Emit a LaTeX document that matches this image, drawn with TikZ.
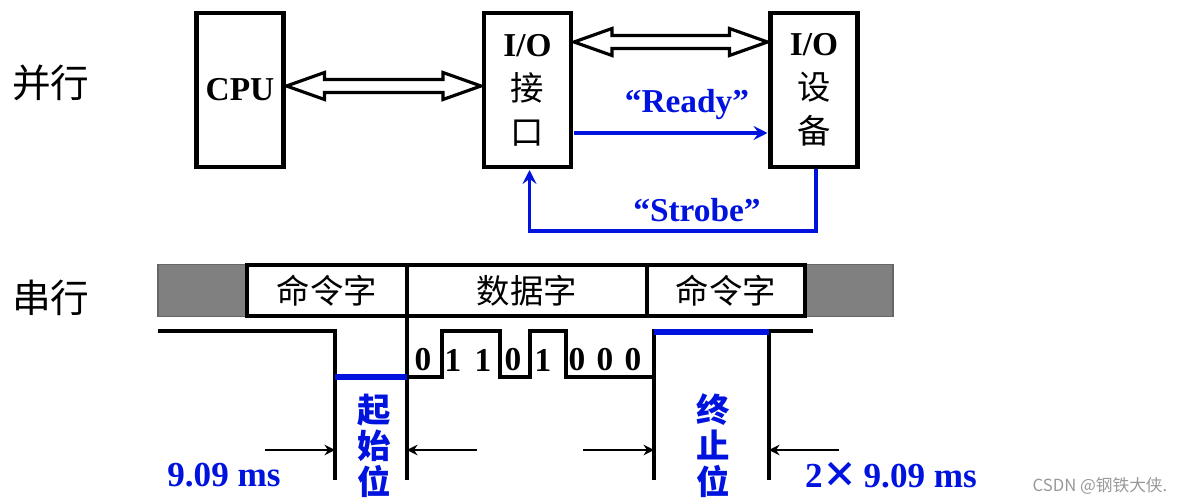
\documentclass[tikz,border=0pt]{standalone}
\usepackage{fontspec}
\setmainfont{Liberation Serif}
\newfontfamily\cjk{Noto Sans CJK SC}
\usetikzlibrary{shapes,arrows.meta,positioning,calc}
\definecolor{sigblue}{RGB}{0,18,222}

\tikzset{
  unit/.style={draw, line width=2.3pt, minimum width=1.74cm, minimum height=3.08cm,
    align=center, inner sep=0pt, font=\fontsize{19}{25}\selectfont},
  hollow/.style={draw, line width=1.8pt, fill=white, line join=miter},
  cell/.style={draw, line width=2pt, minimum height=1.02cm, inner sep=0pt,
    font=\cjk\fontsize{19}{21}\selectfont},
  pad/.style={draw=black!60, line width=0.6pt, fill=gray, minimum height=1.04cm, inner sep=0pt},
  sig/.style={line width=1.8pt, line join=miter},
  bitline/.style={line width=2.9pt, draw=sigblue},
  wire/.style={line width=2.2pt, draw=sigblue, -{Stealth[length=8pt,width=8pt,inset=3pt]}},
  dim/.style={line width=1pt, -{Stealth[length=6pt,width=6pt,inset=2pt]}},
  bluelbl/.style={text=sigblue, font=\bfseries\fontsize{19}{21}\selectfont},
  bitlbl/.style={font=\bfseries\fontsize{19}{21}\selectfont, inner sep=0pt},
  vlbl/.style={text=sigblue, align=center, font=\cjk\bfseries\fontsize{19}{20.5}\selectfont},
  side/.style={font=\cjk\fontsize{22}{24}\selectfont}
}

% hollow double arrow between two tips
\newcommand{\hollowlink}[2]{%
  \draw[hollow] (#1) -- ++(38,-13.5) -- ++(0,7) -- ($(#2)+(-38,-6.5)$) -- ++(0,-7)
    -- (#2) -- ++(-38,13.5) -- ++(0,-7) -- ($(#1)+(38,6.5)$) -- ++(0,7) -- cycle;}

\begin{document}
\begin{tikzpicture}[x=0.02cm, y=-0.02cm]
  \useasboundingbox (0,0) rectangle (1177,500);

  % parallel
  \node[side] (par) at (51,83) {并行};
  \node[unit] (cpu) at (240,90) {\textbf{CPU}};
  \node[unit] (ioif) at (527.5,90) {\textbf{I/O}\\{\cjk 接}\\{\cjk 口}};
  \node[unit] (iodev) at (814,90) {\textbf{I/O}\\{\cjk 设}\\{\cjk 备}};

  \coordinate (busA) at ($(cpu.east)+(1,-4)$);
  \coordinate (busB) at ($(ioif.west)+(-1,-4)$);
  \coordinate (busC) at ($(ioif.east)+(1,-48)$);
  \coordinate (busD) at ($(iodev.west)+(-1,-48)$);
  \hollowlink{busA}{busB}
  \hollowlink{busC}{busD}

  \draw[wire] ($(ioif.east)+(1,43)$) -- ($(iodev.west)+(-1,43)$);
  \node[bluelbl] (ready) at (687,105) {“Ready”};
  \draw[wire] ($(iodev.south)+(2,0)$) -- ++(0,62) -| ($(ioif.south)+(2,1)$);
  \node[bluelbl] (strobe) at (697,210) {“Strobe”};

  % serial
  \node[side] (ser) at (51,298) {串行};
  \node[pad, minimum width=1.78cm] (padL) at (202.5,290.5) {};
  \node[pad, minimum width=1.76cm] (padR) at (849,290.5) {};
  \node[cell, minimum width=3.2cm] (cmdA) at (327,290.5) {命令字};
  \node[cell, minimum width=4.8cm] (data) at (527,290.5) {数据字};
  \node[cell, minimum width=3.16cm] (cmdB) at (726,290.5) {命令字};

  \draw[sig] (158,331) -- (335,331) -- (335,480);
  \draw[sig] (407,318) -- (407,480);
  \draw[sig] (407,377) -- (442,377) -- (442,331) -- (500,331) -- (500,377) -- (530,377)
    -- (530,331) -- (566,331) -- (566,377) -- (654,377) -- (654,331) -- (813,331);
  \draw[sig] (654,331) -- (654,480);
  \draw[sig] (769,331) -- (769,480);
  \draw[bitline] (335,377) -- (407,377);
  \draw[bitline] (654,332) -- (769,332);

  \foreach \x/\b in {423/0,453/1,483/1,513/0,543/1,577/0,605/0,633/0}
    \node[bitlbl] at (\x,360) {\b};

  \coordinate (startL) at (335,450);
  \coordinate (startR) at (407,450);
  \coordinate (stopL) at (654,450);
  \coordinate (stopR) at (769,450);
  \draw[dim] (265,450) -- (startL);
  \draw[dim] (477,450) -- (startR);
  \draw[dim] (583,450) -- (stopL);
  \draw[dim] (839,450) -- (stopR);

  \node[vlbl] (startbit) at (374,446) {起\\始\\位};
  \node[vlbl] (stopbit) at (713,446) {终\\止\\位};
  \node[bluelbl, font=\bfseries\fontsize{20}{22}\selectfont] (tA) at (224,475) {9.09 ms};
  \node[bluelbl, font=\bfseries\fontsize{20}{22}\selectfont] (tB) at (891,475) {2{\cjk ×}\,9.09 ms};

  \node[text=black!40, font=\cjk\fontsize{9.5}{11}\selectfont] (wm) at (1100,486) {CSDN @钢铁大侠.};
\end{tikzpicture}
\end{document}
